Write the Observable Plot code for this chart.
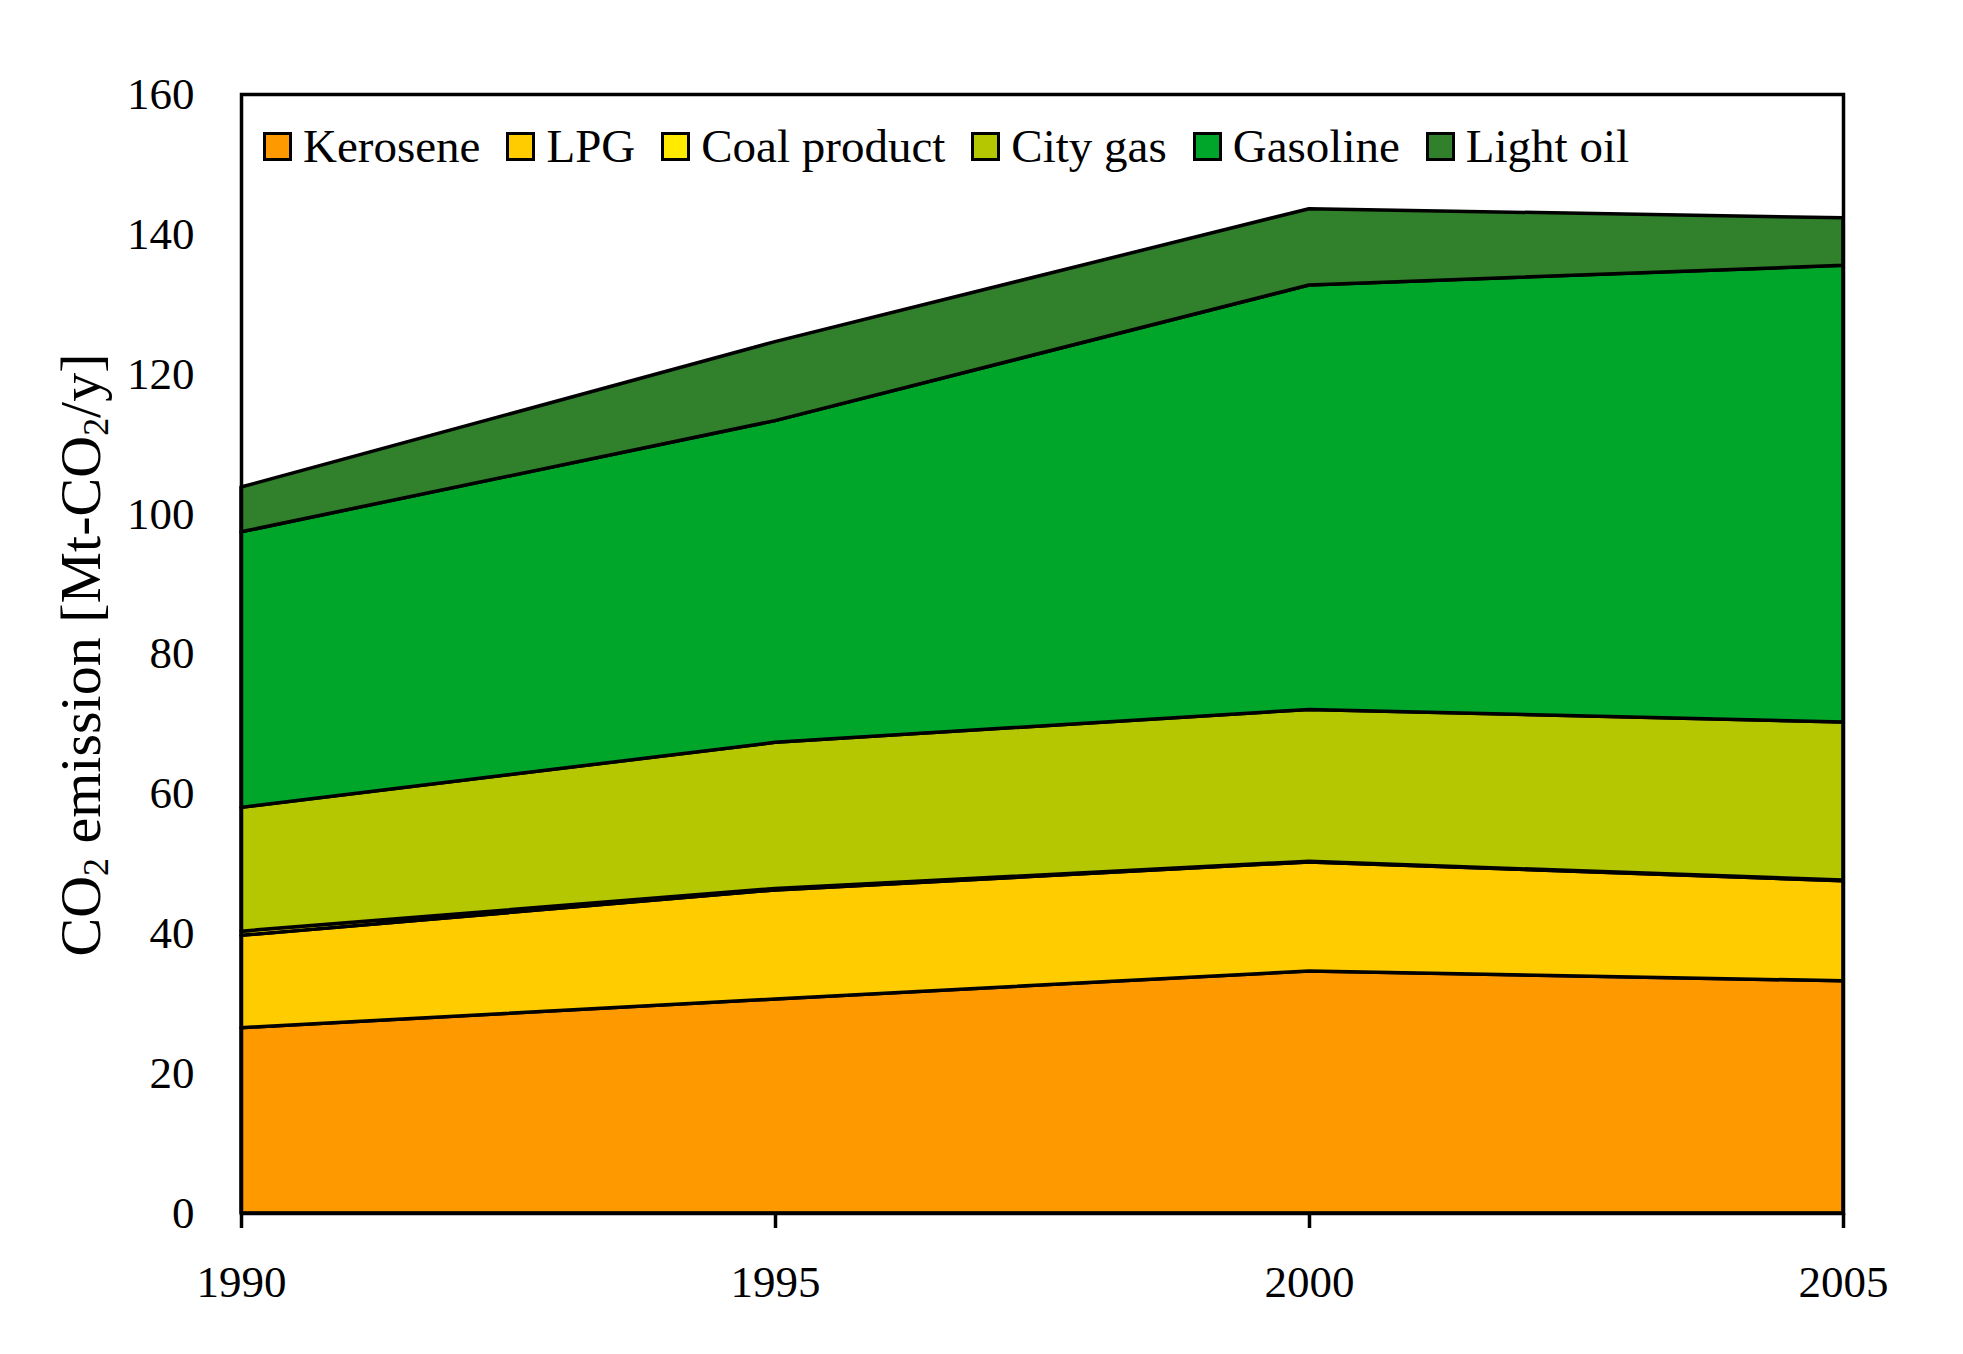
<!DOCTYPE html>
<html>
<head>
<meta charset="utf-8">
<script src="https://cdn.jsdelivr.net/npm/d3@7"></script>
<script src="https://cdn.jsdelivr.net/npm/@observablehq/plot@0.6"></script>
<style>
  html, body { margin: 0; padding: 0; background: #fff; }
  #wrap { position: relative; width: 1963px; height: 1354px; font-family: "Liberation Serif", serif; color: #000; }
  #chart { position: absolute; left: 0; top: 0; }
  #legend { position: absolute; left: 263px; top: 121px; display: flex; align-items: center; gap: 26px; font-size: 47px; line-height: 50px; white-space: nowrap; }
  .item { display: flex; align-items: center; }
  .sw { width: 23px; height: 23px; border: 3px solid #000; margin-right: 11px; }
  #ytitle { position: absolute; left: 80px; top: 655px; transform: translate(-50%, -50%) rotate(-90deg); font-size: 58px; white-space: nowrap; }
  #ytitle sub { font-size: 62%; vertical-align: -0.25em; line-height: 0; }
</style>
</head>
<body>
<div id="wrap">
  <div id="chart"></div>
  <div id="legend"></div>
  <div id="ytitle">CO<sub>2</sub> emission [Mt-CO<sub>2</sub>/y]</div>
</div>
<script>
// Data (values in Mt-CO2/y, not cumulative)
const years = [1990, 1995, 2000, 2005];
const seriesNames = ["Kerosene", "LPG", "Coal product", "City gas", "Gasoline", "Light oil"];
const kerosene    = [26.5, 30.6, 34.6, 33.2];
const lpg         = [13.2, 15.6, 15.6, 14.3];
const coalProduct = [0.6, 0.2, 0.1, 0.1];
const cityGas     = [17.7, 20.9, 21.7, 22.6];
const gasoline    = [39.4, 46.0, 60.7, 65.3];
const lightOil    = [6.4, 11.3, 10.9, 6.8];
const seriesColors = ["#FF9900", "#FFCC00", "#FFEA00", "#B5C700", "#00A62A", "#31802B"];
const xTicks = [1990, 1995, 2000, 2005];
const yTicks = [0, 20, 40, 60, 80, 100, 120, 140, 160];

const seriesValues = [kerosene, lpg, coalProduct, cityGas, gasoline, lightOil];
const data = [];
seriesNames.forEach((name, j) => {
  years.forEach((yr, i) => data.push({ year: yr, fuel: name, value: seriesValues[j][i] }));
});

const chart = Plot.plot({
  width: 1963,
  height: 1354,
  marginLeft: 241,
  marginRight: 120,
  marginTop: 94,
  marginBottom: 141,
  style: { fontFamily: "Liberation Serif", fontSize: "45px", color: "#000", background: "#fff" },
  x: { domain: [1990, 2005], label: null },
  y: { domain: [0, 160], label: null },
  color: { domain: seriesNames, range: seriesColors },
  marks: [
    Plot.areaY(data, {
      x: "year", y: "value", z: "fuel", fill: "fuel", order: seriesNames,
      stroke: "#000", strokeWidth: 3.5, strokeLinejoin: "round"
    }),
    Plot.frame({ stroke: "#000", strokeWidth: 3.5 }),
    Plot.axisX({ ticks: xTicks, tickFormat: "d", tickSize: 15, tickPadding: 37, strokeWidth: 3.5, label: null }),
    Plot.axisY({ ticks: yTicks, tickSize: 0, tickPadding: 47, label: null })
  ]
});
document.getElementById("chart").appendChild(chart);

const legend = document.getElementById("legend");
seriesNames.forEach((name, j) => {
  const item = document.createElement("div");
  item.className = "item";
  const sw = document.createElement("div");
  sw.className = "sw";
  sw.style.background = seriesColors[j];
  const t = document.createElement("span");
  t.textContent = name;
  item.appendChild(sw);
  item.appendChild(t);
  legend.appendChild(item);
});
</script>
</body>
</html>
